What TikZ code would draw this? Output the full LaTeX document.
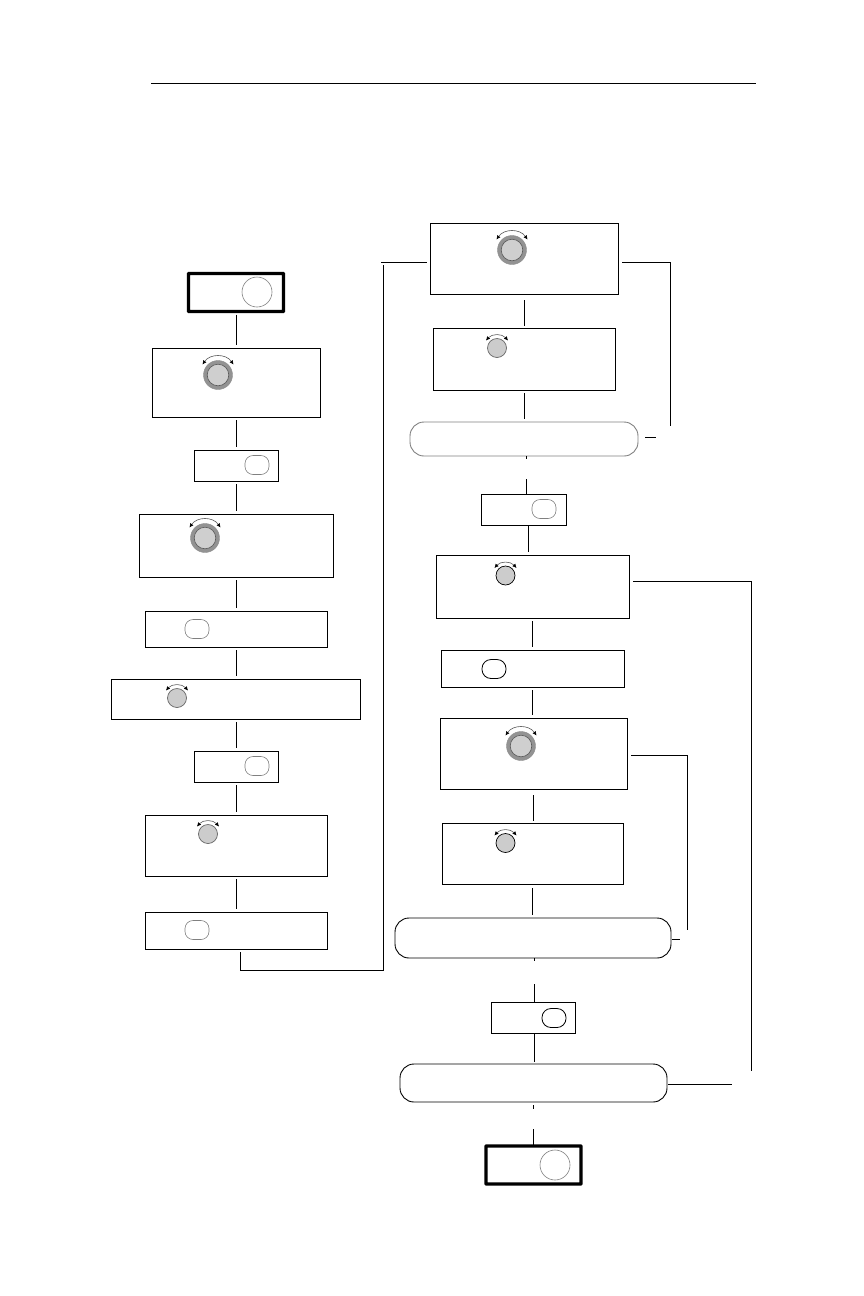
\documentclass[tikz,border=0pt]{standalone}
\usepackage{xcolor}
\usepackage{tikz}
\usetikzlibrary{arrows.meta}

\begin{document}
\begin{tikzpicture}[x=1pt,y=-1pt,
    stepbox/.style={draw, line width=0.9pt, inner sep=0pt, outer sep=0pt},
    endbox/.style={draw, line width=3.4pt, rounded corners=0.5pt, inner sep=0pt, outer sep=0pt,
        minimum width=95pt, minimum height=38pt},
    promptbox/.style={draw, line width=0.9pt, rounded corners=14pt, inner sep=0pt, outer sep=0pt},
    keycap/.style={draw=gray, line width=0.6pt, rounded corners=8pt, inner sep=0pt,
        minimum width=24pt, minimum height=19pt},
    roundkey/.style={draw=gray, line width=0.6pt, circle, inner sep=0pt, minimum size=30pt},
    link/.style={line width=0.9pt},
    gap/.style={shorten <=3pt, shorten >=3pt},
    turn/.style={black!65, line width=0.6pt, {Latex[length=4pt,width=4pt,black]}-{Latex[length=4pt,width=4pt,black]}},
    bigknob/.pic={
        \filldraw[fill=gray!85, draw=gray!90] (0,0) circle (14.5pt);
        \filldraw[fill=gray!38, draw=black!65, line width=0.6pt] (0,0) circle (10.8pt);
        \draw[turn] (-15.5,-10.5) .. controls (-8,-21.5) and (8,-21.5) .. (15.5,-10.5);
    },
    pics/smallknob/.style={code={
        \filldraw[fill=gray!40, draw=#1, line width=0.7pt] (0,0) circle (9.5pt);
        \draw[turn] (-11,-7.5) .. controls (-5,-14.5) and (5,-14.5) .. (11,-7.5);
    }}]
    \useasboundingbox (0,0) rectangle (864,1296);

    % Page rule
    \coordinate (ruleL) at (151,83);
    \coordinate (ruleR) at (756,83);
    \draw[line width=0.8pt] (ruleL) -- (ruleR);

    % Left column
    \node[endbox] (start) at (236,292.5) {};
    \node[stepbox, minimum width=168pt, minimum height=69pt] (dialA) at (236,382.5) {};
    \node[stepbox, minimum width=84pt, minimum height=31pt] (pressA) at (236,465.5) {};
    \node[stepbox, minimum width=194pt, minimum height=63pt] (dialB) at (236,545.5) {};
    \node[stepbox, minimum width=182pt, minimum height=36pt] (pressB) at (236,629) {};
    \node[stepbox, minimum width=249pt, minimum height=40pt] (dialC) at (235.5,699) {};
    \node[stepbox, minimum width=84pt, minimum height=31pt] (pressC) at (236,766.5) {};
    \node[stepbox, minimum width=182pt, minimum height=61pt] (dialD) at (236,845.5) {};
    \node[stepbox, minimum width=182pt, minimum height=37pt] (pressD) at (236,930.5) {};

    % Right column
    \node[stepbox, minimum width=188pt, minimum height=71pt] (dialE) at (524,258.5) {};
    \node[stepbox, minimum width=182pt, minimum height=62pt] (dialF) at (524.5,359) {};
    \node[promptbox, draw=gray, minimum width=228pt, minimum height=34pt] (askA) at (524,439) {};
    \node[stepbox, minimum width=85pt, minimum height=31pt] (pressE) at (523.5,509.5) {};
    \node[stepbox, minimum width=193pt, minimum height=63pt] (dialG) at (532.5,586.5) {};
    \node[stepbox, minimum width=183pt, minimum height=37pt] (pressF) at (532.5,668.5) {};
    \node[stepbox, minimum width=187pt, minimum height=71pt] (dialH) at (533.5,753.5) {};
    \node[stepbox, minimum width=181pt, minimum height=61pt] (dialJ) at (532.5,853.5) {};
    \node[promptbox, minimum width=276pt, minimum height=40pt] (askB) at (533,938) {};
    \node[stepbox, minimum width=84pt, minimum height=31pt] (pressG) at (533,1017.5) {};
    \node[promptbox, minimum width=267pt, minimum height=38pt] (askC) at (533.5,1083) {};
    \node[endbox] (finish) at (533.5,1165) {};

    % Keys
    \node[roundkey] (keyStart) at (257,292) {};
    \node[roundkey] (keyFinish) at (555,1165) {};
    \node[keycap] (keyA) at (257,465) {};
    \node[keycap] (keyB) at (197,629) {};
    \node[keycap] (keyC) at (257,766) {};
    \node[keycap] (keyD) at (197,930) {};
    \node[keycap] (keyE) at (544,509) {};
    \node[keycap, draw=black, line width=0.8pt, rounded corners=9pt] (keyF) at (494,669) {};
    \node[keycap, draw=black, line width=0.8pt, rounded corners=9pt] (keyG) at (554,1018) {};

    % Knobs
    \foreach \kx/\ky in {218/375, 205/538, 512/250, 521/746}
        \pic at (\kx,\ky) {bigknob};
    \foreach \kx/\ky in {177/698, 208/834, 497/348}
        \pic at (\kx,\ky) {smallknob=gray!80!black};
    \foreach \kx/\ky in {505.5/575.5, 505.5/843}
        \pic at (\kx,\ky) {smallknob=black};

    % Links, left column
    \draw[link, gap] (start.south) -- (dialA.north);
    \draw[link, gap] (dialA.south) -- (pressA.north);
    \draw[link, gap] (pressA.south) -- (dialB.north);
    \draw[link, gap] (dialB.south) -- (pressB.north);
    \draw[link, gap] (pressB.south) -- (dialC.north -| pressB.south);
    \draw[link, gap] (dialC.south -| pressC.north) -- (pressC.north);
    \draw[link, gap] (pressC.south) -- (dialD.north);
    \draw[link, gap] (dialD.south) -- (pressD.north);

    % Long link to top of right column
    \coordinate (crossA) at (240,970);
    \coordinate (crossB) at (383,970);
    \coordinate (crossC) at (383,265);
    \coordinate (crossD) at (381,262);
    \draw[link] ([xshift=4pt, yshift=-3pt]pressD.south) -- (crossA) -- (crossB) -- (crossC);
    \draw[link, shorten >=3pt] (crossD) -- (crossD -| dialE.west);

    % Links, right column
    \draw[link, shorten <=6pt, shorten >=2pt] (dialE.south) -- (dialF.north -| dialE.south);
    \draw[link, gap] (dialF.south) -- (askA.north -| dialF.south);
    \coordinate (stubA) at (526,459);
    \coordinate (stubB) at (526,479);
    \draw[link] (askA.south -| stubA) -- (stubA);
    \draw[link] (stubB) -- (pressE.north -| stubB);
    \draw[link, shorten >=3pt] ([xshift=4.5pt]pressE.south) -- ([xshift=4.5pt]pressE.south |- dialG.north);
    \draw[link, gap] (dialG.south) -- (pressF.north);
    \draw[link, gap] (pressF.south) -- (dialH.north -| pressF.south);
    \draw[link, shorten <=6pt, shorten >=2pt] (dialH.south) -- (dialJ.north -| dialH.south);
    \draw[link, shorten <=4pt, shorten >=3pt] (dialJ.south) -- (askB.north -| dialJ.south);
    \coordinate (stubC) at (534,961);
    \coordinate (stubD) at (534,984);
    \draw[link] (askB.south -| stubC) -- (stubC);
    \draw[link] (stubD) -- (pressG.north -| stubD);
    \draw[link, shorten >=2pt] (pressG.south -| stubD) -- (askC.north -| stubD);
    \coordinate (stubE) at (533,1105);
    \coordinate (stubF) at (533,1109);
    \coordinate (stubG) at (533,1129);
    \draw[link] (stubE) -- (stubF);
    \draw[link] (stubG) -- (finish.north -| stubG);

    % Side loops
    \coordinate (loopA) at (670,262);
    \coordinate (loopB) at (670,426);
    \coordinate (loopC) at (656,437);
    \draw[link, shorten <=4pt] (dialE.east |- loopA) -- (loopA) -- (loopB);
    \draw[link, shorten <=7pt] (askA.east |- loopC) -- (loopC);

    \coordinate (loopD) at (687,755);
    \coordinate (loopE) at (687,930);
    \coordinate (loopF) at (680,939);
    \draw[link, shorten <=4pt] (dialH.east |- loopD) -- (loopD) -- (loopE);
    \draw[link, shorten <=1pt] (askB.east |- loopF) -- (loopF);

    \coordinate (loopG) at (751,581);
    \coordinate (loopH) at (751,1071);
    \coordinate (loopJ) at (732,1084);
    \draw[link, shorten <=4pt] (dialG.east |- loopG) -- (loopG) -- (loopH);
    \draw[link, shorten <=1pt] (askC.east |- loopJ) -- (loopJ);
\end{tikzpicture}
\end{document}
